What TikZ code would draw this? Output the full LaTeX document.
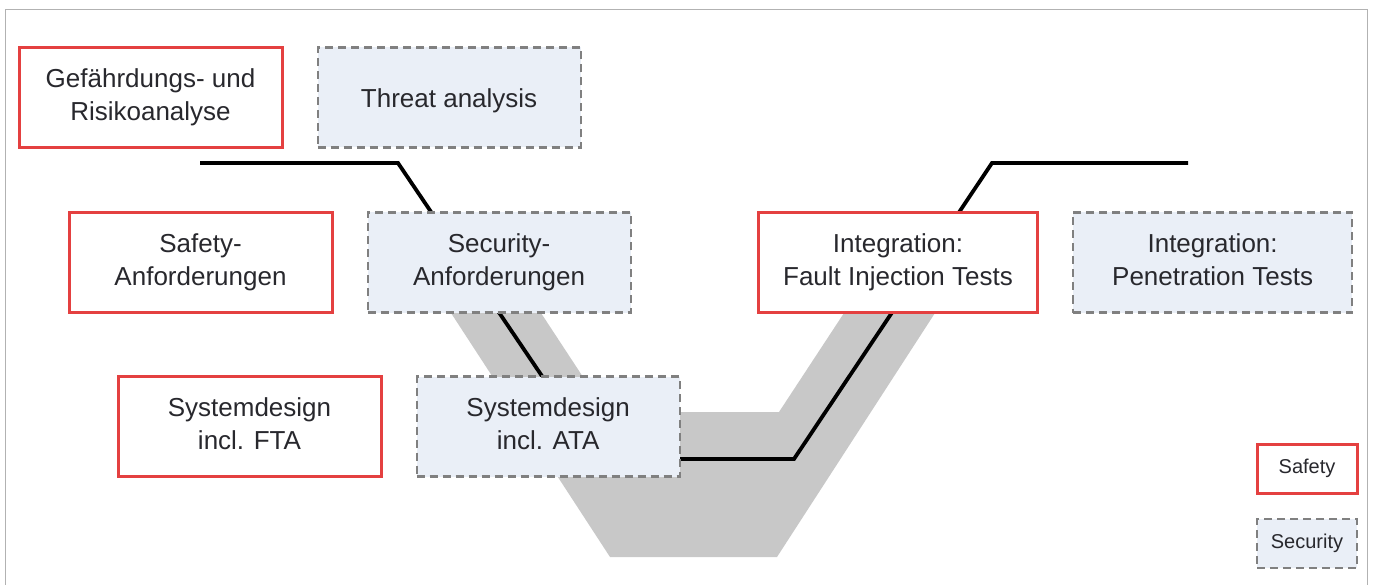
\documentclass[tikz,border=0pt]{standalone}
\usepackage{fontspec}
\setmainfont{Liberation Sans}
\usetikzlibrary{positioning,backgrounds}
\definecolor{safered}{RGB}{228,64,64}
\definecolor{secfill}{RGB}{234,239,247}
\definecolor{secline}{RGB}{128,128,128}
\definecolor{vband}{RGB}{200,200,200}
\definecolor{txtgray}{RGB}{40,40,45}
\newcommand{\topstrut}{\rule{0pt}{27pt}}
\newcommand{\botstrut}{\rule[-6pt]{0pt}{6pt}}
\tikzset{
  box/.style={rectangle,align=center,text=txtgray,inner sep=0pt,
    minimum width=263pt,minimum height=100pt,
    font=\fontsize{26}{33}\selectfont,
    execute at begin node=\topstrut,execute at end node=\botstrut},
  safetybox/.style={box,draw=safered,line width=3pt,fill=white},
  securitybox/.style={box,draw=secline,line width=2.2pt,fill=secfill,
    dash pattern=on 8pt off 5pt},
  legendbox/.style={minimum width=100pt,minimum height=49pt,
    font=\fontsize{20}{24}\selectfont\def\topstrut{\strut}\def\botstrut{}}
}
\begin{document}
\begin{tikzpicture}[x=1pt,y=-1pt,node distance=33pt]
\useasboundingbox (0,0) rectangle (1375,585);
% frame
\draw[black!30,line width=1pt] (5,590) -- (5,10) -- (1367,10) -- (1367,590);
% gray V band and the V line
\fill[vband] (451,313) -- (610,557) -- (777,557) -- (935,313) -- (844,313)
    -- (779,412) -- (606,412) -- (541,313) -- cycle;
\coordinate (vstart) at (200,163);
\coordinate (vend) at (1188,163);
\draw[line width=3.8pt] (vstart) -- (398,163) -- (598,459) -- (794,459)
    -- (992,163) -- (vend);
% left branch
\node[safetybox] at (150.5,97.5) (gefahr) {Gefährdungs- und\\Risikoanalyse};
\node[securitybox,right=of gefahr] (threat) {Threat analysis};
\node[safetybox] at (200.5,262.5) (safereq) {Safety-\\Anforderungen};
\node[securitybox,right=of safereq] (secreq) {Security-\\Anforderungen};
\node[safetybox] at (249.5,426.5) (sysfta) {Systemdesign\\incl. FTA};
\node[securitybox,right=of sysfta] (sysata) {Systemdesign\\incl. ATA};
% right branch
\node[safetybox,minimum width=279pt] at (898,262.5) (faultinj)
    {Integration:\\Fault Injection Tests};
\node[securitybox,minimum width=279pt,right=of faultinj] (pentest)
    {Integration:\\Penetration Tests};
% legend
\node[safetybox,legendbox] at (1307,469) (legsafe) {Safety};
\node[securitybox,legendbox,below=23pt of legsafe] (legsec) {Security};
\end{tikzpicture}
\end{document}
